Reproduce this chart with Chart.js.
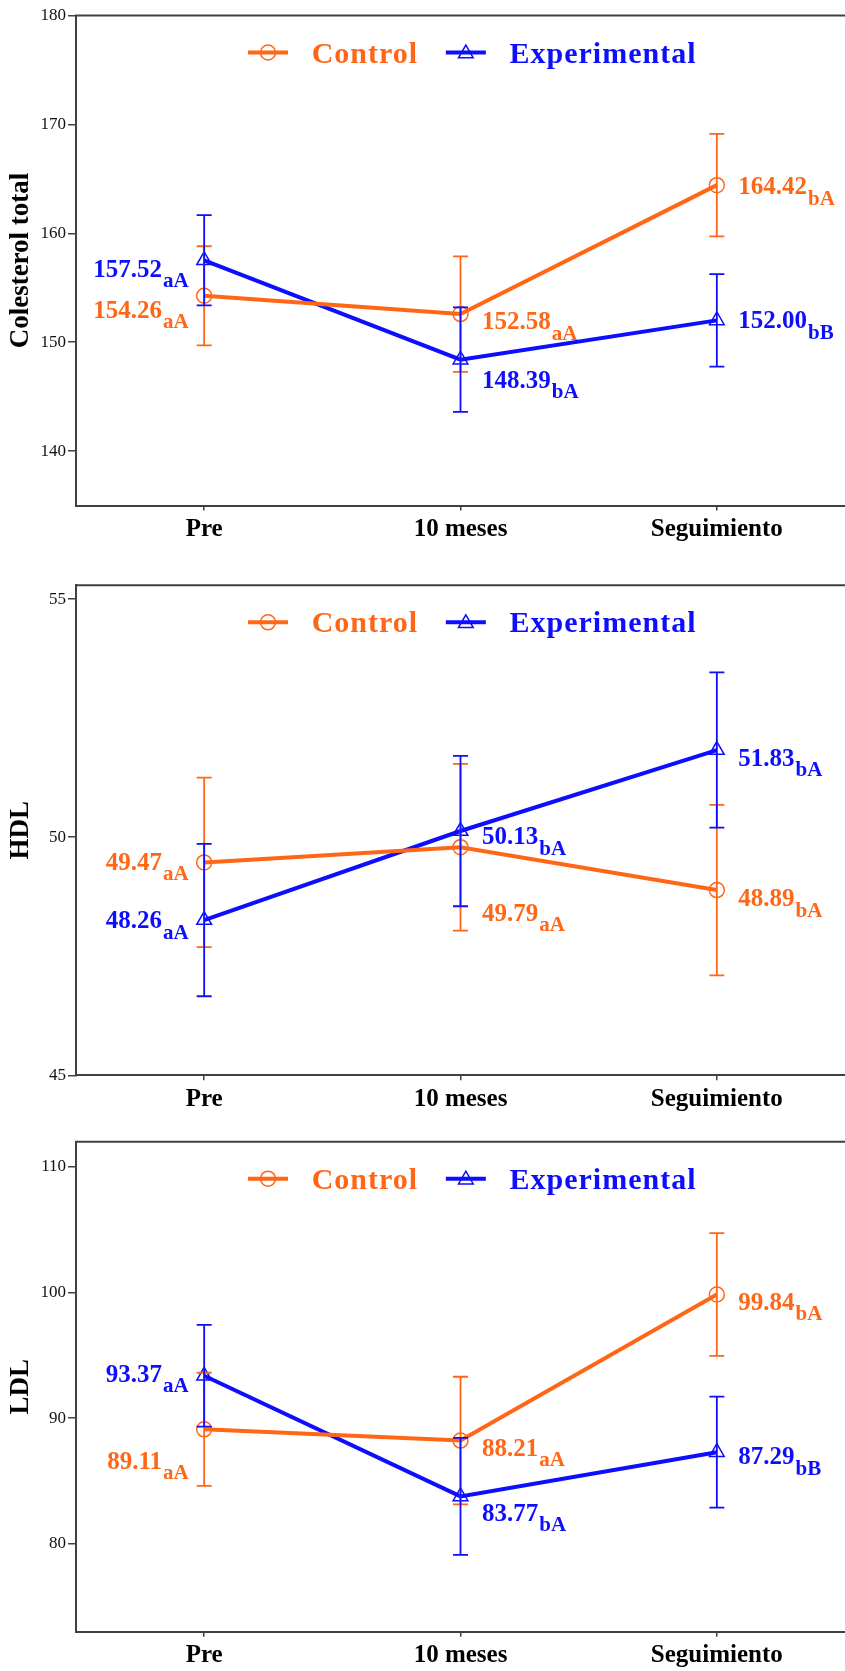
<!DOCTYPE html>
<html><head><meta charset="utf-8">
<script src="https://cdn.jsdelivr.net/npm/chart.js@4.4.0/dist/chart.umd.min.js"></script>
<style>
html,body{margin:0;padding:0;background:#fff;overflow:hidden;width:845px;height:1671px;}
canvas{position:absolute;left:0;}
</style></head><body>
<canvas id="c1" width="845" height="560" style="top:0px"></canvas>
<canvas id="c2" width="845" height="560" style="top:560px"></canvas>
<canvas id="c3" width="845" height="551" style="top:1120px"></canvas>
<script>
// ---------- DATA ----------
const categories = ['Pre', '10 meses', 'Seguimiento'];
const seriesNames = ['Control', 'Experimental'];

// Colesterol total
const colControl = [154.26, 152.58, 164.42];
const colExperimental = [157.52, 148.39, 152.00];
const colControlErr = [4.55, 5.3, 4.7];
const colExperimentalErr = [4.15, 4.8, 4.25];
const colControlLetters = ['aA', 'aA', 'bA'];
const colExperimentalLetters = ['aA', 'bA', 'bB'];
const colTicks = [140, 150, 160, 170, 180];

// HDL
const hdlControl = [49.47, 49.79, 48.89];
const hdlExperimental = [48.26, 50.13, 51.83];
const hdlControlErr = [1.78, 1.75, 1.79];
const hdlExperimentalErr = [1.6, 1.58, 1.63];
const hdlControlLetters = ['aA', 'aA', 'bA'];
const hdlExperimentalLetters = ['aA', 'bA', 'bA'];
const hdlTicks = [45, 50, 55];

// LDL
const ldlControl = [89.11, 88.21, 99.84];
const ldlExperimental = [93.37, 83.77, 87.29];
const ldlControlErr = [4.5, 5.08, 4.88];
const ldlExperimentalErr = [4.05, 4.65, 4.42];
const ldlControlLetters = ['aA', 'aA', 'bA'];
const ldlExperimentalLetters = ['aA', 'bA', 'bB'];
const ldlTicks = [80, 90, 100, 110];

// ---------- STYLE ----------
const ORANGE = '#ff6616';
const BLUE = '#0d0dff';
const FRAME = '#404040';
const SERIF = "'Liberation Serif', 'Times New Roman', serif";
const PLOT_H = 490;

const framePlugin = {
  id: 'frame',
  afterDraw(chart) {
    const {ctx, chartArea: a} = chart;
    ctx.save();
    ctx.strokeStyle = FRAME; ctx.lineWidth = 2;
    ctx.beginPath(); ctx.moveTo(a.left - 1, a.top); ctx.lineTo(chart.width, a.top); ctx.stroke();
    ctx.restore();
  }
};

const errorBarPlugin = {
  id: 'errbars',
  afterDatasetsDraw(chart) {
    const {ctx, scales: {x, y}} = chart;
    chart.data.datasets.forEach(ds => {
      ctx.save();
      ctx.strokeStyle = ds.borderColor; ctx.lineWidth = 1.8;
      ds.data.forEach((v, j) => {
        const px = x.getPixelForValue(j);
        const y1 = y.getPixelForValue(v + ds.errors[j]);
        const y2 = y.getPixelForValue(v - ds.errors[j]);
        ctx.beginPath();
        ctx.moveTo(px, y1); ctx.lineTo(px, y2);
        ctx.moveTo(px - 7.5, y1); ctx.lineTo(px + 7.5, y1);
        ctx.moveTo(px - 7.5, y2); ctx.lineTo(px + 7.5, y2);
        ctx.stroke();
      });
      ctx.restore();
    });
  }
};

const labelPlugin = {
  id: 'vlabels',
  afterDraw(chart) {
    const {ctx, scales: {x, y}} = chart;
    chart.data.datasets.forEach(ds => {
      ds.data.forEach((v, j) => {
        const [side, dy] = ds.place[j];
        const px = x.getPixelForValue(j), py = y.getPixelForValue(v);
        const num = v.toFixed(2), sub = ds.letters[j];
        const fNum = 'bold 25px ' + SERIF, fSub = 'bold 21px ' + SERIF;
        ctx.save();
        ctx.font = fNum; const wn = ctx.measureText(num).width;
        ctx.font = fSub; const ws = ctx.measureText(sub).width;
        const base = py + dy + 8.4;
        const x0 = side === 'left' ? px - 15.5 - wn - ws - 1 : px + 21.5;
        ctx.fillStyle = ds.borderColor; ctx.textAlign = 'left'; ctx.textBaseline = 'alphabetic';
        ctx.font = fNum; ctx.fillText(num, x0, base);
        ctx.font = fSub; ctx.fillText(sub, x0 + wn + 1, base + 10.5);
        ctx.restore();
      });
    });
  }
};

function drawMarker(ctx, style, cx, cy, r) {
  ctx.beginPath();
  if (style === 'circle') {
    ctx.arc(cx, cy, r, 0, Math.PI * 2);
  } else {
    let rad = 0;
    ctx.moveTo(cx + Math.sin(rad) * r, cy - Math.cos(rad) * r);
    rad += Math.PI * 2 / 3;
    ctx.lineTo(cx + Math.sin(rad) * r, cy - Math.cos(rad) * r);
    rad += Math.PI * 2 / 3;
    ctx.lineTo(cx + Math.sin(rad) * r, cy - Math.cos(rad) * r);
    ctx.closePath();
  }
  ctx.stroke();
}

const legendPlugin = {
  id: 'customLegend',
  afterDraw(chart) {
    const {ctx, chartArea: a} = chart;
    const ly = a.top + 37;
    let lx = 248;
    ctx.save();
    chart.data.datasets.forEach(ds => {
      ctx.strokeStyle = ds.borderColor; ctx.lineWidth = 4;
      ctx.beginPath(); ctx.moveTo(lx, ly); ctx.lineTo(lx + 40, ly); ctx.stroke();
      ctx.lineWidth = 1.5;
      drawMarker(ctx, ds.pointStyle, lx + 20, ly + (ds.pointStyle === 'triangle' ? 1 : 0), ds.pointStyle === 'triangle' ? 8.5 : 7.5);
      ctx.font = 'bold 30px ' + SERIF;
      ctx.letterSpacing = '1px';
      ctx.fillStyle = ds.borderColor; ctx.textBaseline = 'alphabetic'; ctx.textAlign = 'left';
      const tx = lx + 63.7;
      ctx.fillText(ds.label, tx, ly + 10);
      lx = tx + ctx.measureText(ds.label).width + 27.7;
    });
    ctx.restore();
  }
};

function makeChart(id, c) {
  const canvas = document.getElementById(id);
  const H = canvas.height;
  return new Chart(canvas, {
    type: 'line',
    data: {
      labels: categories,
      datasets: [
        { label: seriesNames[0], data: c.ctrl, errors: c.ctrlErr, letters: c.ctrlLet, place: c.placeCtrl,
          borderColor: ORANGE, borderWidth: 4, tension: 0,
          pointStyle: 'circle', pointRadius: 7.5, pointBorderWidth: 1.5,
          pointBorderColor: ORANGE, pointBackgroundColor: 'rgba(0,0,0,0)' },
        { label: seriesNames[1], data: c.exp, errors: c.expErr, letters: c.expLet, place: c.placeExp,
          borderColor: BLUE, borderWidth: 4, tension: 0,
          pointStyle: 'triangle', pointRadius: 8.5, pointBorderWidth: 1.5,
          pointBorderColor: BLUE, pointBackgroundColor: 'rgba(0,0,0,0)' }
      ]
    },
    options: {
      responsive: false, animation: false, devicePixelRatio: 1,
      layout: { autoPadding: false, padding: { top: c.padTop, left: 0, right: 0, bottom: 0 } },
      plugins: { legend: { display: false }, tooltip: { enabled: false } },
      elements: { line: { borderCapStyle: 'butt' } },
      scales: {
        x: {
          type: 'category', offset: true,
          grid: { drawOnChartArea: false, tickLength: 5, color: FRAME, lineWidth: 1.5 },
          border: { color: FRAME, width: 2 },
          ticks: { font: { family: SERIF, size: 25, weight: 'bold' }, color: '#000', padding: 4 },
          afterFit(s) { s.height = H - c.padTop - PLOT_H; s.paddingLeft = 0; s.paddingRight = 0; }
        },
        y: {
          min: c.min, max: c.max,
          grid: { drawOnChartArea: false, tickLength: 8, color: FRAME, lineWidth: 1.5 },
          border: { color: FRAME, width: 2 },
          ticks: { font: { family: SERIF, size: 17 }, color: '#111', padding: 2 },
          afterBuildTicks(s) { s.ticks = c.ticks.map(v => ({ value: v })); },
          afterFit(s) { s.width = 76; s.paddingTop = 0; s.paddingBottom = 0; },
          title: { display: true, text: c.title, color: '#000',
                   font: { family: SERIF, size: 27, weight: 'bold' }, padding: { top: 5, bottom: 0 } }
        }
      }
    },
    plugins: [framePlugin, errorBarPlugin, labelPlugin, legendPlugin]
  });
}

makeChart('c1', {
  title: 'Colesterol total', min: 135, max: 180, ticks: colTicks, padTop: 15.5,
  ctrl: colControl, exp: colExperimental, ctrlErr: colControlErr, expErr: colExperimentalErr,
  ctrlLet: colControlLetters, expLet: colExperimentalLetters,
  placeCtrl: [['left', 13.6], ['right', 6.7], ['right', 0.5]],
  placeExp: [['left', 8], ['right', 19.8], ['right', -0.4]]
});
makeChart('c2', {
  title: 'HDL', min: 45, max: 55.29, ticks: hdlTicks, padTop: 25.3,
  ctrl: hdlControl, exp: hdlExperimental, ctrlErr: hdlControlErr, expErr: hdlExperimentalErr,
  ctrlLet: hdlControlLetters, expLet: hdlExperimentalLetters,
  placeCtrl: [['left', -1], ['right', 65], ['right', 8]],
  placeExp: [['left', 0], ['right', 5], ['right', 7.5]]
});
makeChart('c3', {
  title: 'LDL', min: 73, max: 112, ticks: ldlTicks, padTop: 21.7,
  ctrl: ldlControl, exp: ldlExperimental, ctrlErr: ldlControlErr, expErr: ldlExperimentalErr,
  ctrlLet: ldlControlLetters, expLet: ldlExperimentalLetters,
  placeCtrl: [['left', 31], ['right', 6.5], ['right', 7]],
  placeExp: [['left', -2.5], ['right', 16], ['right', 3.5]]
});
</script>
</body></html>
